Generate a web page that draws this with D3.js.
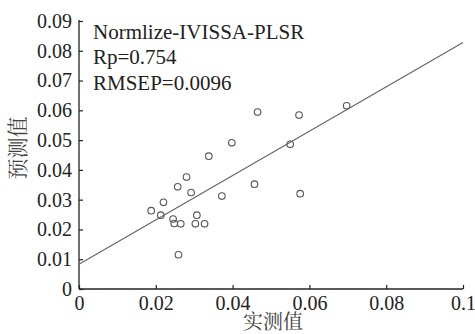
<!DOCTYPE html>
<html><head><meta charset="utf-8">
<script src="https://cdn.jsdelivr.net/npm/d3@7"></script>
<style>body{margin:0;background:#fff}svg{display:block}
.serif{font-family:"Liberation Serif","Times New Roman",serif}
.cjk{font-family:"Noto Serif CJK SC","Noto Sans CJK SC",serif}
</style>
</head><body>
<script>
const measured = [0.0465,0.0573,0.0398,0.0550,0.0338,0.0280,0.0257,0.0292,0.0457,0.0576,0.0372,0.0220,0.0188,0.0213,0.0245,0.0248,0.0265,0.0307,0.0303,0.0327,0.0259,0.0697];
const predicted = [0.0594,0.0584,0.0491,0.0486,0.0446,0.0376,0.0343,0.0324,0.0352,0.0320,0.0312,0.0291,0.0263,0.0248,0.0235,0.0220,0.0219,0.0248,0.0219,0.0219,0.0115,0.0615];
const fitLine = [[0,0.0083],[0.1,0.0828]];
const xTicks = [0,0.02,0.04,0.06,0.08,0.1];
const yTicks = [0,0.01,0.02,0.03,0.04,0.05,0.06,0.07,0.08,0.09];
const annotations = ["Normlize-IVISSA-PLSR","Rp=0.754","RMSEP=0.0096"];
const xTitle = "实测值", yTitle = "预测值";

const W=475,H=334;
const svg=d3.select("body").append("svg").attr("width",W).attr("height",H);
const x=d3.scaleLinear().domain([0,0.1]).range([79,463]);
const y=d3.scaleLinear().domain([0,0.09]).range([289,21]);
const fmt=d=>d===0?"0":(d===0.1?"0.1":d3.format(".2f")(d));

const gx=svg.append("g").attr("transform","translate(0,289)")
 .call(d3.axisBottom(x).tickValues(xTicks).tickFormat(fmt).tickSizeInner(-4).tickSizeOuter(0).tickPadding(7));
const gy=svg.append("g").attr("transform","translate(79,0)")
 .call(d3.axisLeft(y).tickValues(yTicks).tickFormat(fmt).tickSizeInner(-4).tickSizeOuter(0).tickPadding(7));
[gx,gy].forEach(g=>{
  g.attr("font-family",null).attr("font-size",null);
  g.select(".domain").attr("stroke","#222").attr("stroke-width",1.3);
  g.selectAll(".tick line").attr("stroke","#222").attr("stroke-width",1.2);
  g.selectAll("text").attr("class","serif").style("font-size","20px").attr("fill","#222");
});
gy.select(".domain").attr("d","M0,289V20");
gx.select(".domain").attr("d","M79,0H463");

svg.append("path").datum(fitLine)
 .attr("d",d3.line().x(d=>x(d[0])).y(d=>y(d[1])))
 .attr("stroke","#666").attr("stroke-width",1.2).attr("fill","none");

svg.append("g").selectAll("circle").data(measured).join("circle")
 .attr("cx",d=>x(d)).attr("cy",(d,i)=>y(predicted[i])).attr("r",3.3)
 .attr("fill","none").attr("stroke","#555").attr("stroke-width",1.1);

svg.append("g").selectAll("text").data(annotations).join("text")
 .attr("class","serif")
 .attr("x",93).attr("y",(d,i)=>39+i*25.3).text(d=>d)
 .style("font-size","21px").attr("fill","#222");

svg.append("text").attr("class","cjk").attr("x",273).attr("y",329).attr("text-anchor","middle")
 .style("font-size","20px").attr("fill","#444").text(xTitle);
svg.append("text").attr("class","cjk").attr("transform","translate(25,148) rotate(-90)").attr("text-anchor","middle")
 .style("font-size","21px").attr("fill","#444").text(yTitle);
</script>
</body></html>
